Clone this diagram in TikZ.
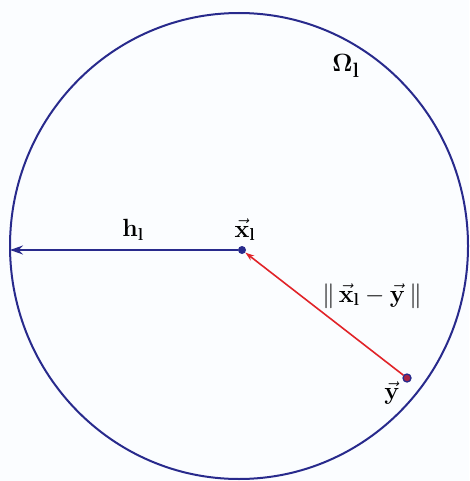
\documentclass[tikz,border=0pt]{standalone}
\usepackage{amsmath,bm}
\usetikzlibrary{arrows.meta}
\definecolor{cblue}{RGB}{40,42,140}
\definecolor{cred}{RGB}{225,35,40}
\definecolor{bg}{RGB}{251,253,255}
\tikzset{
  lbl/.style={inner sep=1pt, font=\fontsize{24}{26}\selectfont},
  dotpt/.style={circle, fill=cblue, inner sep=0pt, minimum size=8pt},
}
\begin{document}
\begin{tikzpicture}[x=1pt,y=-1pt]
\useasboundingbox (0,0) rectangle (469,481);
\fill[bg] (0,0) rectangle (469,481);
\draw[cblue, line width=2pt] (239,246) ellipse [x radius=229, y radius=233];
\coordinate (edge) at (10,250);
\node[dotpt] (xl) at (242,250) {};
\node[circle, draw=cblue, fill=cred!70!cblue, line width=1.3pt, inner sep=0pt, minimum size=8pt] (y) at (407,378) {};
\draw[cblue, line width=1.6pt, -{Stealth[length=13pt,width=9pt]}] (xl) -- (edge);
\draw[cred, line width=1.6pt, -{Stealth[length=9pt,width=6pt]}] (y) -- (xl);
\node[lbl] (hl) at (133,230) {$\mathbf{h}_{\mathbf{l}}$};
\node[lbl] (xlab) at (245,230) {$\vec{\mathbf{x}}_{\mathbf{l}}$};
\node[lbl] (dist) at (372,296) {$\|\,\vec{\mathbf{x}}_{\mathbf{l}}-\vec{\mathbf{y}}\,\|$};
\node[lbl] (ylab) at (392,393) {$\vec{\mathbf{y}}$};
\node[inner sep=1pt, font=\fontsize{30}{32}\selectfont] (om) at (346,66) {$\bm{\Omega}_{\mathbf{l}}$};
\end{tikzpicture}
\end{document}
